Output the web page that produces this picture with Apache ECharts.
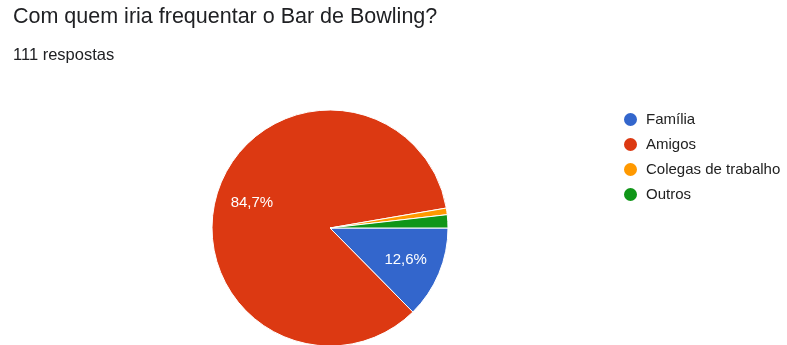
<!DOCTYPE html>
<html><head><meta charset="utf-8">
<script src="https://cdn.jsdelivr.net/npm/echarts@6/dist/echarts.min.js"></script>
<style>html,body{margin:0;padding:0;background:#fff}#c{width:787px;height:345px}</style>
</head><body><div id="c"></div>
<script>
const categories = ['Família', 'Amigos', 'Colegas de trabalho', 'Outros'];
const values = [14, 94, 1, 2];
const colors = ['#3366cc', '#dc3912', '#ff9900', '#109618'];
const titleText = 'Com quem iria frequentar o Bar de Bowling?';
const subText = '111 respostas';

const FONT = '"Liberation Sans", Arial, sans-serif';
const data = categories.map((n, i) => ({ name: n, value: values[i] }));
const chart = echarts.init(document.getElementById('c'));
const fmt = p => p.percent < 5 ? '' : p.percent.toFixed(1).replace('.', ',') + '%';
chart.setOption({
  animation: false,
  color: colors,
  title: [{
    text: titleText, left: 13, top: 6, padding: 0,
    textStyle: { fontFamily: FONT, fontSize: 21.5, fontWeight: 'normal', color: '#202124' }
  }, {
    text: subText, left: 13, top: 47, padding: 0,
    textStyle: { fontFamily: FONT, fontSize: 16.5, fontWeight: 'normal', color: '#202124' }
  }],
  legend: {
    orient: 'vertical', left: 622, top: 111, padding: 0, icon: 'circle', itemWidth: 15, itemHeight: 15, itemGap: 8,
    textStyle: { fontFamily: FONT, fontSize: 15, color: '#222', padding: [0, 0, 0, 3] },
    data: categories
  },
  series: [{
    type: 'pie', center: [330, 228], radius: [0, 118], startAngle: 0, clockwise: true,
    itemStyle: { borderColor: '#fff', borderWidth: 1 },
    label: { show: false }, labelLine: { show: false }, silent: true,
    data: data
  }, {
    type: 'pie', center: [330, 228], radius: [0, 158], startAngle: 0, clockwise: true,
    itemStyle: { color: 'rgba(0,0,0,0)' }, silent: true, legendHoverLink: false,
    label: { show: true, position: 'inside', formatter: fmt, color: '#fff', fontFamily: FONT, fontSize: 15 },
    labelLine: { show: false },
    data: data.map(d => ({ name: d.name + ' ', value: d.value }))
  }]
});
</script></body></html>
